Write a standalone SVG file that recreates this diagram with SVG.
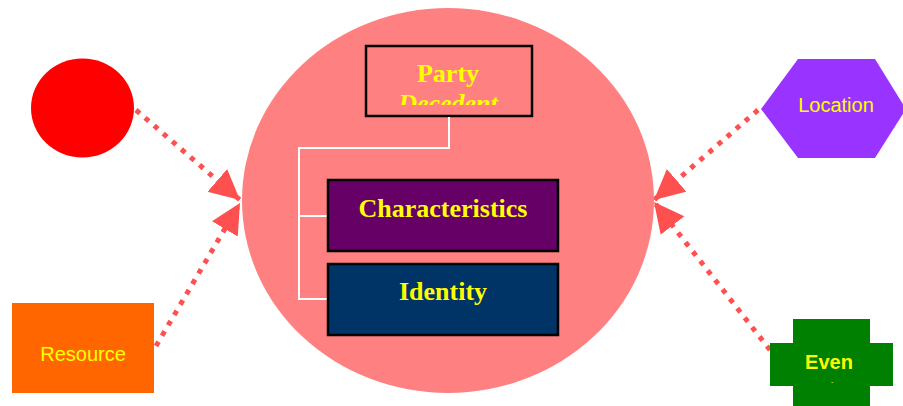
<svg xmlns="http://www.w3.org/2000/svg" width="903" height="406" viewBox="0 0 903 406">
<style>
.dot{fill:none;stroke:#FF5050;stroke-width:5;stroke-dasharray:5,7;}
.box{stroke:#000;stroke-width:2.5;}
.serif{font-family:"Liberation Serif","Times New Roman",serif;font-weight:bold;font-size:26px;fill:#FFFF00;text-anchor:middle;}
.sans{font-family:"Liberation Sans",Arial,sans-serif;font-size:20px;fill:#FFFF00;text-anchor:middle;}
.tree{fill:none;stroke:#FFFFFF;stroke-width:2;}
</style>
<defs>
<marker id="arr" markerUnits="userSpaceOnUse" markerWidth="34" markerHeight="32" refX="30" refY="15" orient="auto">
<path d="M0,0 L30,15 L0,30 Z" fill="#FF5050"/>
</marker>
<clipPath id="clipParty"><rect x="365" y="45" width="168" height="60"/></clipPath>
<clipPath id="clipEvent"><rect x="770" y="319" width="123" height="64"/></clipPath>
</defs>
<rect width="903" height="406" fill="#FFFFFF"/>
<g id="connectors">
<line class="dot" x1="136" y1="110" x2="240" y2="200" marker-end="url(#arr)"/>
<line class="dot" x1="156" y1="346" x2="240" y2="203" marker-end="url(#arr)"/>
<line class="dot" x1="758" y1="110" x2="654" y2="200" marker-end="url(#arr)"/>
<line class="dot" x1="770" y1="350" x2="654" y2="202" marker-end="url(#arr)"/>
</g>
<g id="party">
<ellipse cx="448" cy="200.5" rx="206" ry="192.5" fill="#FF8080"/>
<rect class="box" x="366" y="46" width="166" height="70" fill="#FF8080"/>
<text class="serif" x="448" y="82">Party</text>
<g clip-path="url(#clipParty)"><text class="serif" x="448" y="112" font-style="italic">Decedent</text></g>
<path class="tree" d="M449,117 V148 H299 V299 H327 M299,216 H327"/>
</g>
<g id="characteristics">
<rect class="box" x="328" y="180" width="230" height="71" fill="#660066"/>
<text class="serif" x="443" y="217">Characteristics</text>
</g>
<g id="identity">
<rect class="box" x="328" y="264" width="230" height="71" fill="#003366"/>
<text class="serif" x="443" y="300">Identity</text>
</g>
<g id="circle">
<ellipse cx="82.5" cy="108" rx="51.5" ry="49.5" fill="#FF0000"/>
</g>
<g id="resource">
<rect x="12" y="303" width="142" height="90" fill="#FF6600"/>
<text class="sans" x="83" y="361" font-size="21">Resource</text>
</g>
<g id="location">
<polygon points="761,109 798,59 875,59 906,109 875,158 798,158" fill="#9933FF"/>
<text class="sans" x="836" y="112" font-size="19">Location</text>
</g>
<g id="event">
<polygon points="793,319 870,319 870,343 893,343 893,386 870,386 870,406 793,406 793,386 770,386 770,343 793,343" fill="#008000"/>
<g clip-path="url(#clipEvent)">
<text class="sans" x="829" y="369" font-size="19" font-weight="bold">Even</text>
<text class="sans" x="832" y="396" font-size="19" font-weight="bold">t</text>
</g>
</g>
</svg>
